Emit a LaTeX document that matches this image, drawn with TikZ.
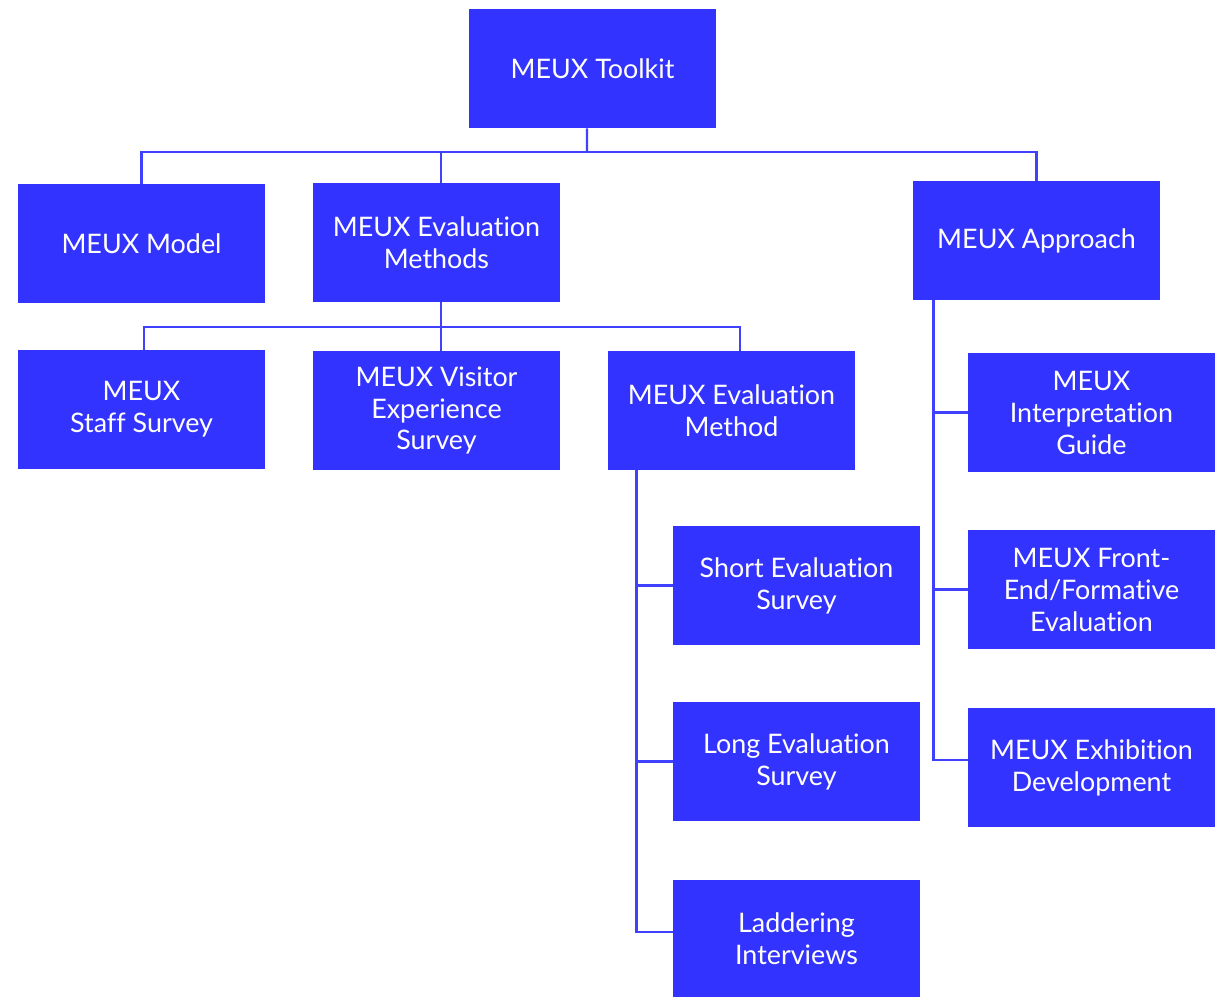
\documentclass[tikz,border=0pt]{standalone}
\usepackage{fontspec}
\setmainfont[Ligatures=NoCommon]{Lato}
\usepackage{tikz}

\definecolor{meuxblue}{HTML}{3333FF}
\definecolor{meuxline}{HTML}{4040FF}

\begin{document}
\begin{tikzpicture}[
    x=0.02cm, y=-0.02cm,
    box/.style={
        rectangle, fill=meuxblue, text=white, align=center,
        minimum width=4.94cm, minimum height=2.38cm, inner sep=0pt,
        font=\fontsize{15.3}{18.2}\selectfont
    },
    link/.style={
        draw=meuxline, line width=1.4pt
    }
]

\useasboundingbox (0,0) rectangle (1218,997);

\node [box] (toolkit) at (592.5,68.5) {MEUX Toolkit};

\node [box] (model)    at (141.5,243.5) {MEUX Model};
\node [box] (methods)  at (436.5,242.5) {MEUX Evaluation\\Methods};
\node [box] (approach) at (1036.5,240.5) {MEUX Approach};

\node [box] (staff)   at (141.5,409.5) {MEUX\\Staff Survey};
\node [box] (visitor) at (436.5,410.5) {MEUX Visitor\\Experience\\Survey};
\node [box] (method)  at (731.5,410.5) {MEUX Evaluation\\Method};

\node [box] (short)  at (796.5,585.5) {Short Evaluation\\Survey};
\node [box] (long)   at (796.5,761.5) {Long Evaluation\\Survey};
\node [box, minimum height=2.34cm] (ladder) at (796.5,938.5) {Laddering\\Interviews};

\node [box] (interp)  at (1091.5,412.5) {MEUX\\Interpretation\\Guide};
\node [box] (front)   at (1091.5,589.5) {MEUX Front-\\End/Formative\\Evaluation};
\node [box] (exhib)   at (1091.5,767.5) {MEUX Exhibition\\Development};

\coordinate (bus1) at (587,152);
\coordinate (bus2) at (441,327);

\draw [link] ([xshift=-0.11cm]toolkit.south) -- (bus1);
\draw [link] (model.north) |- (bus1) -| (approach.north);
\draw [link] ([xshift=0.09cm]methods.north) -- ([xshift=0.09cm]methods.north |- bus1);

\draw [link] ([xshift=0.09cm]methods.south) -- ([xshift=0.09cm]visitor.north);
\draw [link] ([xshift=0.05cm]staff.north) |- (bus2) -| ([xshift=0.17cm]method.north);

\draw [link] ([xshift=0.58cm]method.south west) |- ([yshift=0.13cm]ladder.west);
\draw [link] (short.west) -| ([xshift=0.58cm]method.south west);
\draw [link] (long.west) -| ([xshift=0.58cm]method.south west);

\draw [link] ([xshift=0.42cm]approach.south west) |- ([yshift=0.15cm]exhib.west);
\draw [link] (interp.west) -| ([xshift=0.42cm]approach.south west);
\draw [link] (front.west) -| ([xshift=0.42cm]approach.south west);

\end{tikzpicture}
\end{document}
